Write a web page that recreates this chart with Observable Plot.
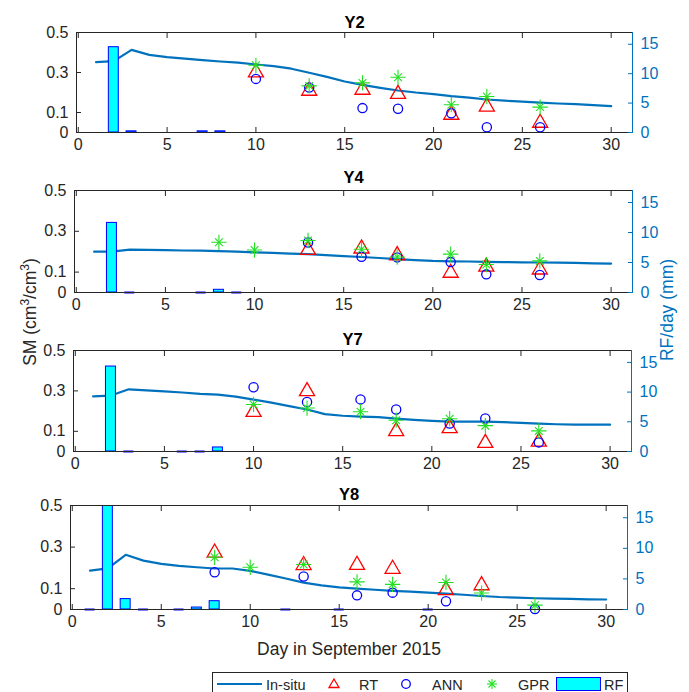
<!DOCTYPE html>
<html><head><meta charset="utf-8">
<script src="https://cdn.jsdelivr.net/npm/d3@7"></script>
<script src="https://cdn.jsdelivr.net/npm/@observablehq/plot@0.6"></script>
<style>
html,body{margin:0;padding:0;background:#fff;}
#wrap{position:relative;width:689px;height:692px;overflow:hidden;font-family:"Liberation Sans",Arial,sans-serif;color:#262626;}
.panel{position:absolute;left:0;}
.lab{position:absolute;white-space:nowrap;font-size:17.5px;line-height:1;}
.rot{transform:translate(-50%,-50%) rotate(-90deg);}
</style></head><body><div id="wrap"></div><script>
// ---- data ----
const days = d3.range(1, 31);
const xTicks = [0, 5, 10, 15, 20, 25, 30];
const smTicks = [0, 0.1, 0.3, 0.5];
const rfTicks = [0, 5, 10, 15];
const RFMAX = 17;

const insituY2 = [0.352,0.357,0.413,0.388,0.377,0.369,0.362,0.355,0.349,0.340,0.332,0.319,0.299,0.278,0.255,0.238,0.223,0.210,0.200,0.192,0.182,0.174,0.165,0.159,0.154,0.149,0.145,0.142,0.137,0.132];
const rtDaysY2 = [10,13,16,18,21,23,26], rtY2 = [0.300,0.208,0.213,0.192,0.088,0.129,0.048];
const annDaysY2 = [10,13,16,18,21,23,26], annY2 = [0.268,0.225,0.122,0.119,0.096,0.026,0.026];
const gprDaysY2 = [10,13,16,18,21,23,26], gprY2 = [0.336,0.233,0.248,0.276,0.139,0.180,0.127];
const rfDaysY2 = [2,3,7,8], rfY2 = [14.5,0.2,0.2,0.2];

const insituY4 = [0.200,0.200,0.210,0.209,0.208,0.206,0.205,0.203,0.200,0.197,0.194,0.191,0.188,0.183,0.178,0.174,0.169,0.164,0.159,0.155,0.153,0.152,0.150,0.149,0.148,0.147,0.146,0.145,0.143,0.142];
const rtDaysY4 = [13,16,18,21,23,26], rtY4 = [0.208,0.215,0.182,0.096,0.126,0.112];
const annDaysY4 = [13,16,18,21,23,26], annY4 = [0.245,0.175,0.172,0.149,0.089,0.086];
const gprDaysY4 = [8,10,13,16,18,21,23,26], gprY4 = [0.246,0.208,0.255,0.212,0.174,0.188,0.137,0.155];
const rfDaysY4 = [2,3,7,8,9], rfY4 = [11.6,0,0,0.45,0];

const insituY7 = [0.273,0.277,0.308,0.303,0.298,0.292,0.285,0.282,0.272,0.257,0.242,0.225,0.208,0.185,0.177,0.173,0.170,0.163,0.157,0.152,0.148,0.148,0.148,0.145,0.142,0.138,0.135,0.133,0.133,0.133];
const rtDaysY7 = [10,13,18,21,23,26], rtY7 = [0.195,0.298,0.100,0.115,0.042,0.048];
const annDaysY7 = [10,13,16,18,21,23,26], annY7 = [0.318,0.245,0.258,0.208,0.138,0.163,0.045];
const gprDaysY7 = [10,13,16,18,21,23,26], gprY7 = [0.233,0.215,0.197,0.155,0.162,0.128,0.102];
const rfDaysY7 = [2,3,6,7,8], rfY7 = [14.3,0,0,0,0.68];

const insituY8 = [0.187,0.198,0.263,0.235,0.219,0.210,0.203,0.197,0.197,0.186,0.168,0.149,0.129,0.116,0.106,0.100,0.095,0.090,0.086,0.081,0.076,0.071,0.065,0.060,0.057,0.054,0.052,0.051,0.049,0.048];
const rtDaysY8 = [8,13,16,18,21,23], rtY8 = [0.273,0.213,0.214,0.195,0.092,0.116];
const annDaysY8 = [8,13,16,18,21,26], annY8 = [0.179,0.159,0.068,0.081,0.040,0.002];
const gprDaysY8 = [8,10,13,16,18,21,23,26], gprY8 = [0.251,0.203,0.216,0.133,0.121,0.130,0.079,0.021];
const rfDaysY8 = [1,2,3,4,6,7,8,12,15,20], rfY8 = [0,22,1.7,0,0,0.32,1.36,0,0,0];

// ---- layout ----
const panels = [
  {name:"Y2", insitu:insituY2, rtD:rtDaysY2, rt:rtY2, annD:annDaysY2, ann:annY2, gprD:gprDaysY2, gpr:gprY2, rfD:rfDaysY2, rf:rfY2,
   top:0, mt:32, fh:100, mb:28, ml:76, mr:57, tdy:-4.5},
  {name:"Y4", insitu:insituY4, rtD:rtDaysY4, rt:rtY4, annD:annDaysY4, ann:annY4, gprD:gprDaysY4, gpr:gprY4, rfD:rfDaysY4, rf:rfY4,
   top:160, mt:30, fh:102, mb:26, ml:74, mr:57, tdy:-8},
  {name:"Y7", insitu:insituY7, rtD:rtDaysY7, rt:rtY7, annD:annDaysY7, ann:annY7, gprD:gprDaysY7, gpr:gprY7, rfD:rfDaysY7, rf:rfY7,
   top:318, mt:32, fh:101, mb:26, ml:73, mr:58, tdy:-6},
  {name:"Y8", insitu:insituY8, rtD:rtDaysY8, rt:rtY8, annD:annDaysY8, ann:annY8, gprD:gprDaysY8, gpr:gprY8, rfD:rfDaysY8, rf:rfY8,
   top:477, mt:28, fh:104, mb:26, ml:70, mr:62, tdy:-6}
];

const XMIN = -0.1, XMAX = 31.2;
const k = 0.5 / RFMAX;
const BW = 0.28;
const BLUE = "#0072BD";
const zip = (ds, vs) => ds.map((d, i) => ({day: d, v: vs[i]}));

const wrap = document.getElementById("wrap");

for (const p of panels) {
  const line = zip(days, p.insitu);
  const rt = zip(p.rtD, p.rt), ann = zip(p.annD, p.ann), gpr = zip(p.gprD, p.gpr);
  const rf = zip(p.rfD, p.rf);
  const rfBars = rf.filter(d => d.v > 0), rfZero = rf.filter(d => d.v === 0);
  const chart = Plot.plot({
    width: 689, height: p.mt + p.fh + p.mb,
    marginLeft: p.ml, marginRight: p.mr, marginTop: p.mt, marginBottom: p.mb,
    x: {domain: [XMIN, XMAX], label: null},
    y: {domain: [0, 0.5], label: null},
    style: {fontFamily: '"Liberation Sans", Arial, sans-serif', fontSize: "16px", color: "#262626", background: "transparent", overflow: "visible"},
    marks: [
      Plot.line(line, {x: "day", y: "v", stroke: BLUE, strokeWidth: 2.2}),
      Plot.dot(rt, {x: "day", y: "v", symbol: "triangle", stroke: "#ff0000", r: 5.6, strokeWidth: 1.3}),
      Plot.dot(ann, {x: "day", y: "v", symbol: "circle", stroke: "#0000ff", r: 4.6, strokeWidth: 1.3}),
      Plot.dot(gpr, {x: "day", y: "v", symbol: "plus", stroke: "#22e022", r: 5, strokeWidth: 1.1}),
      Plot.dot(gpr, {x: "day", y: "v", symbol: "times", stroke: "#22e022", r: 3.6, strokeWidth: 1.1}),
      Plot.rect(rfBars, {x1: d => d.day - BW, x2: d => d.day + BW, y1: 0, y2: d => d.v * k, fill: "#00ffff", stroke: "#0000ff", strokeWidth: 1, clip: true}),
      Plot.ruleY(rfZero, {x1: d => d.day - BW, x2: d => d.day + BW, y: 0, stroke: "#0000ff", strokeWidth: 2}),
      Plot.frame({stroke: "#262626"}),
      Plot.ruleX([XMAX], {stroke: BLUE}),
      Plot.axisX({anchor: "bottom", ticks: xTicks, tickSize: -5, tickPadding: 11, tickFormat: d => String(d), color: "#262626"}),
      Plot.axisX({anchor: "top", ticks: xTicks, tickSize: -5, tickFormat: () => "", color: "#262626"}),
      Plot.axisY({anchor: "left", ticks: smTicks, tickSize: -5, tickPadding: 13, tickFormat: d => String(d), color: "#262626"}),
      Plot.axisY({anchor: "right", ticks: rfTicks.map(v => v * k), tickSize: -5, tickPadding: 13, tickFormat: d => String(Math.round(d / k)), color: BLUE}),
      Plot.text([p.name], {frameAnchor: "top", lineAnchor: "bottom", text: d => d, dy: p.tdy, fontWeight: "bold", fontSize: 16.5, fill: "#000"})
    ]
  });
  chart.classList.add("panel");
  chart.style.top = p.top + "px";
  chart.style.position = "absolute";
  chart.style.left = "0px";
  wrap.appendChild(chart);
}

// labels
function addLab(html, x, y, cls, color) {
  const el = document.createElement("div");
  el.className = "lab " + (cls || "");
  el.innerHTML = html;
  el.style.left = x + "px"; el.style.top = y + "px";
  if (!cls) el.style.transform = "translate(-50%,-50%)";
  if (color) el.style.color = color;
  wrap.appendChild(el);
}
addLab("Day in September 2015", 349, 650);
addLab("SM (cm<sup style='font-size:12px'>3</sup>/cm<sup style='font-size:12px'>3</sup>)", 29, 312, "rot");
addLab("RF/day (mm)", 668, 310, "rot", BLUE);

// legend
const legendItems = ["In-situ", "RT", "ANN", "GPR", "RF"];
const legendX = [266, 359, 432, 518, 604];
const ns = "http://www.w3.org/2000/svg";
const lg = document.createElementNS(ns, "svg");
lg.setAttribute("width", 689); lg.setAttribute("height", 30);
lg.style.position = "absolute"; lg.style.left = "0px"; lg.style.top = "670px";
lg.innerHTML = `
<rect x="212.5" y="2.5" width="415" height="30" fill="#fff" stroke="#262626" stroke-width="1"/>
<line x1="217" x2="262" y1="14" y2="14" stroke="${BLUE}" stroke-width="2"/>
<path d="M334,9 L339,17.5 L329,17.5 Z" fill="none" stroke="#ff0000" stroke-width="1.3"/>
<circle cx="406" cy="14" r="4.3" fill="none" stroke="#0000ff" stroke-width="1.3"/>
<g stroke="#22e022" stroke-width="1.1"><line x1="487" x2="497" y1="14" y2="14"/><line x1="492" x2="492" y1="9" y2="19"/><line x1="488.5" x2="495.5" y1="10.5" y2="17.5"/><line x1="488.5" x2="495.5" y1="17.5" y2="10.5"/></g>
<rect x="556.5" y="7.5" width="44" height="13" fill="#00ffff" stroke="#0000ff" stroke-width="1"/>
` + legendItems.map((t, i) => `<text x="${legendX[i]}" y="19.5" font-family="Liberation Sans, Arial, sans-serif" font-size="14.5" fill="#262626">${t}</text>`).join("");
wrap.appendChild(lg);
</script></body></html>
